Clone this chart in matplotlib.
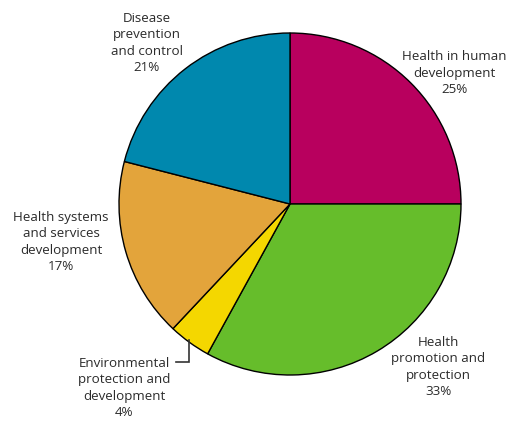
import matplotlib
matplotlib.use("Agg")
import matplotlib.pyplot as plt

# Budget share by area of work (%)
labels = [
    "Health in human\ndevelopment\n25%",
    "Health\npromotion and\nprotection\n33%",
    "Environmental\nprotection and\ndevelopment\n4%",
    "Health systems\nand services\ndevelopment\n17%",
    "Disease\nprevention\nand control\n21%",
]
shares = [25, 33, 4, 17, 21]
colors = ["#B8005E", "#66BD2B", "#F4D700", "#E3A43B", "#0088AE"]

# label anchor points (pixel coords, y measured from top)
label_pos = [(454, 73), (438, 367), (124, 388), (61, 242), (147, 43)]

W, H = 524, 421
fig = plt.figure(figsize=(W / 100, H / 100), dpi=100)
ax = fig.add_axes([0, 0, 1, 1])

ax.pie(shares, colors=colors, startangle=90, counterclock=False,
       center=(290, H - 204), radius=171,
       wedgeprops=dict(edgecolor="black", linewidth=1.0))

ax.set_xlim(0, W)
ax.set_ylim(0, H)
ax.set_aspect("equal")
ax.axis("off")

for text, (x, y) in zip(labels, label_pos):
    ax.text(x, H - y, text, ha="center", va="center", fontsize=9.6,
            family="Open Sans", color="#2b2b2b", linespacing=1.33)

# leader line for the small environmental slice
ax.plot([189, 189, 176], [H - 340, H - 362, H - 362], color="#333333",
        linewidth=1.2, solid_joinstyle="miter")

fig.savefig("out.png", dpi=100)
